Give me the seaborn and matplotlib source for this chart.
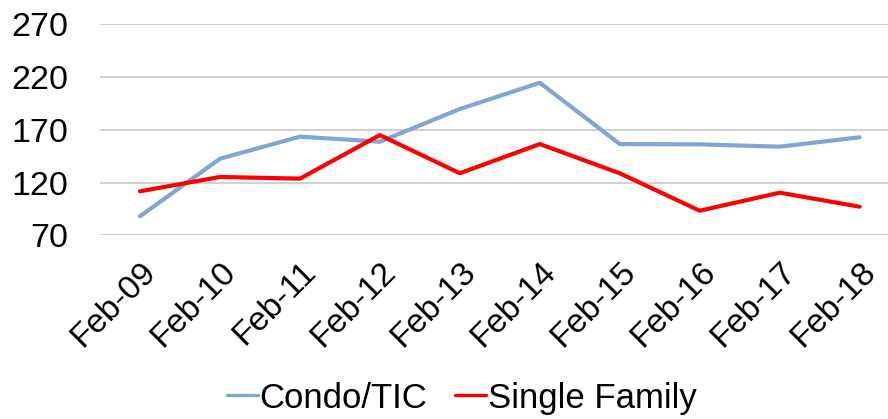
import matplotlib
matplotlib.use('Agg')
import matplotlib.pyplot as plt
import seaborn as sns
import pandas as pd

# values
months = ['Feb-09', 'Feb-10', 'Feb-11', 'Feb-12', 'Feb-13',
          'Feb-14', 'Feb-15', 'Feb-16', 'Feb-17', 'Feb-18']
condo_tic = [88, 142.6, 163.5, 158.7, 189.7, 214.6, 156.5, 156.2, 154, 162.9]
single_family = [111.7, 125.3, 123.7, 165, 128.8, 156.5, 128.8, 93.3, 110.4, 97.1]
y_ticks = [70, 120, 170, 220, 270]

series_names = ['Condo/TIC', 'Single Family']
series_colors = ['#7FA6D5', '#FF0000']

df = pd.DataFrame({
    'Month': months * 2,
    'Value': condo_tic + single_family,
    'Series': [series_names[0]] * len(months) + [series_names[1]] * len(months),
})

sns.set_style('white')
plt.rcParams['font.family'] = ['Liberation Sans', 'DejaVu Sans']
plt.rcParams['text.color'] = 'black'
plt.rcParams['xtick.color'] = 'black'
plt.rcParams['ytick.color'] = 'black'

fig = plt.figure(figsize=(8.88, 4.19), dpi=100)
ax = fig.add_axes([0.1126, 0.4384, 0.887, 0.5036])

sns.lineplot(data=df, x='Month', y='Value', hue='Series', sort=False,
             palette=series_colors, linewidth=3, ax=ax, legend=False)

ax.set_ylim(70, 270)
ax.set_yticks(y_ticks)
ax.set_xlim(-0.5, 9.35)
ax.yaxis.grid(True, color='#D0D0D0', linewidth=1.4)
ax.set_axisbelow(True)
for s in ax.spines.values():
    s.set_visible(False)
ax.set_xlabel('')
ax.set_ylabel('')
ax.tick_params(axis='y', labelsize=24.5, length=0, pad=23)
ax.tick_params(axis='x', labelsize=24, length=0, pad=15)
for lab in ax.get_xticklabels():
    lab.set_rotation(45)
    lab.set_ha('right')
    lab.set_rotation_mode('anchor')

handles = [plt.Line2D([], [], color=c, linewidth=2.4) for c in series_colors]
fig.legend(handles, series_names, loc='center', bbox_to_anchor=(0.52, 0.05),
           ncol=2, frameon=False, fontsize=25, handlelength=0.9,
           handletextpad=0.05, columnspacing=0.8)

fig.savefig('out.png', dpi=100)
plt.close(fig)
